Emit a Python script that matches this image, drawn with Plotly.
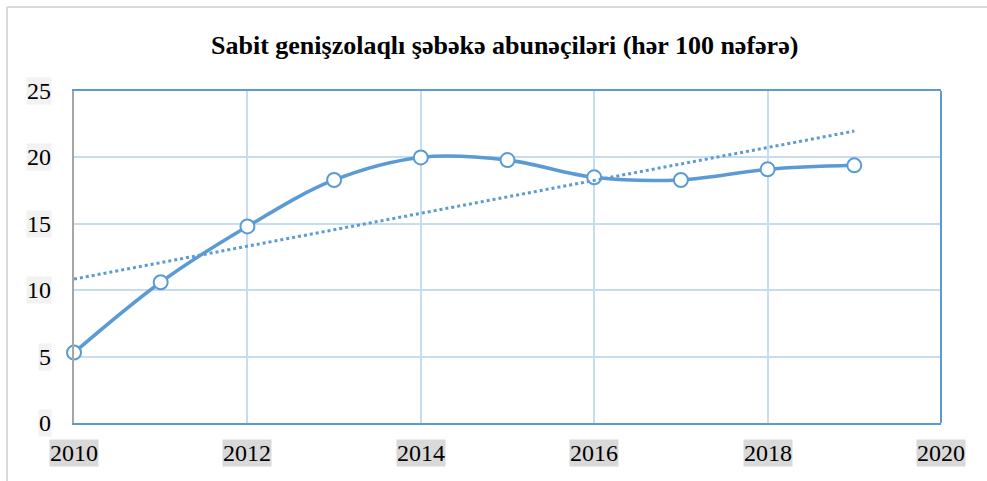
import numpy as np
import plotly.graph_objects as go

# Fixed broadband subscriptions per 100 inhabitants
years = [2010, 2011, 2012, 2013, 2014, 2015, 2016, 2017, 2018, 2019]
subscribers = [5.3, 10.6, 14.8, 18.3, 20.0, 19.8, 18.5, 18.3, 19.1, 19.4]

x_tick_values = [2010, 2012, 2014, 2016, 2018, 2020]
x_tick_labels = ["2010", "2012", "2014", "2016", "2018", "2020"]
y_tick_values = [0, 5, 10, 15, 20, 25]
y_tick_labels = ["0", "5", "10", "15", "20", "25"]

chart_title = "Sabit genişzolaqlı şəbəkə abunəçiləri (hər 100 nəfərə)"

# Linear trend fitted to the series
slope, intercept = np.polyfit(years, subscribers, 1)
trend = [slope * y + intercept for y in years]

BLUE = "#5b9bd5"
GRID = "#c6dcf1"
SERIF = "Liberation Serif"

W, H = 987, 481
L, R, T, B = 74, 941, 91, 423  # plot area edges in pixels


def px_x(p):
    return (p - L) / (R - L)


def px_y(p):
    return (B - p) / (B - T)


fig = go.Figure()

fig.add_trace(go.Scatter(
    x=years, y=subscribers, mode="lines+markers",
    line=dict(color=BLUE, width=3.5, shape="spline", smoothing=1.0),
    marker=dict(symbol="circle", size=14, color="white",
                line=dict(color=BLUE, width=2)),
    showlegend=False, cliponaxis=False,
))

fig.add_trace(go.Scatter(
    x=years, y=trend, mode="lines",
    line=dict(color=BLUE, width=3, dash="dot"),
    showlegend=False, cliponaxis=False,
))

annotations = []
for v, t in zip(x_tick_values, x_tick_labels):
    annotations.append(dict(
        x=v, xref="x", y=px_y(453), yref="paper",
        text=t, showarrow=False, xanchor="center", yanchor="middle",
        bgcolor="#d9d9d9", borderpad=0,
        font=dict(family=SERIF, size=24, color="black"),
    ))
for v, t in zip(y_tick_values, y_tick_labels):
    annotations.append(dict(
        x=px_x(52), xref="paper", y=v, yref="y",
        text=t, showarrow=False, xanchor="right", yanchor="middle",
        bgcolor="#f2f2f2", borderpad=0,
        font=dict(family=SERIF, size=24, color="black"),
    ))
annotations.append(dict(
    x=px_x(504), xref="paper", y=px_y(45), yref="paper",
    text="<b>" + chart_title + "</b>", showarrow=False,
    xanchor="center", yanchor="middle",
    font=dict(family=SERIF, size=26, color="black"),
))

shapes = [
    # right edge of the plot frame
    dict(type="line", xref="paper", yref="paper", x0=1, x1=1, y0=0, y1=1,
         line=dict(color=BLUE, width=2), layer="above"),
    # outer chart border (top and left)
    dict(type="line", xref="paper", yref="paper",
         x0=px_x(7), x1=px_x(W + 5), y0=px_y(7), y1=px_y(7),
         line=dict(color="#d9d9d9", width=2)),
    dict(type="line", xref="paper", yref="paper",
         x0=px_x(7), x1=px_x(7), y0=px_y(7), y1=px_y(H + 5),
         line=dict(color="#d9d9d9", width=2)),
]

fig.update_layout(
    width=W, height=H,
    margin=dict(l=L, r=W - R, t=T, b=H - B, pad=0),
    paper_bgcolor="white", plot_bgcolor="white",
    annotations=annotations, shapes=shapes,
    xaxis=dict(
        range=[2010, 2020], tickvals=x_tick_values, showticklabels=False,
        showgrid=True, gridcolor=GRID, gridwidth=1.5, zeroline=False,
        showline=True, linecolor=BLUE, linewidth=2, mirror=True,
        ticks="",
    ),
    yaxis=dict(
        range=[0, 25], tickvals=y_tick_values, showticklabels=False,
        showgrid=True, gridcolor=GRID, gridwidth=1.5, zeroline=False,
        showline=True, linecolor="#a6a6a6", linewidth=2, mirror=False,
        ticks="",
    ),
)

fig.write_html("out.html")
